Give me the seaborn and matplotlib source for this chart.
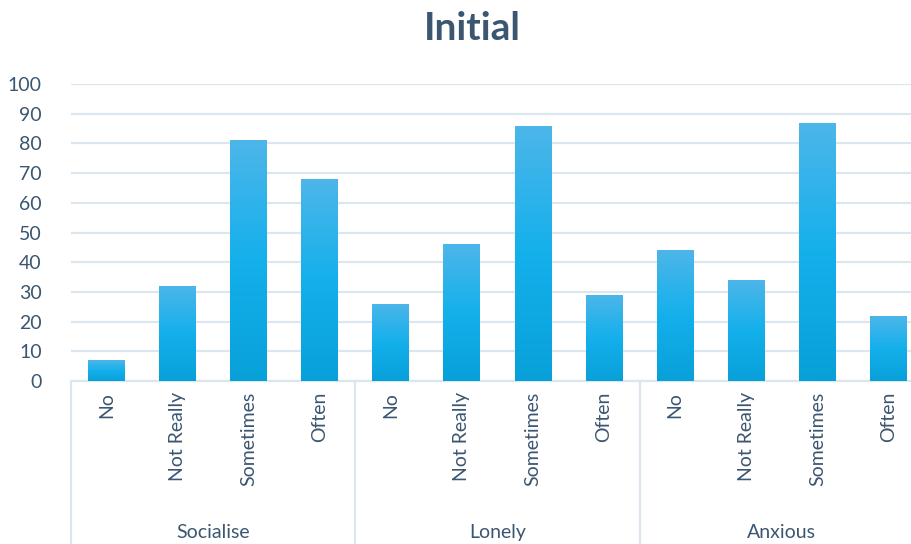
import numpy as np
import pandas as pd
import matplotlib
matplotlib.use("Agg")
import matplotlib.pyplot as plt
import seaborn as sns
from matplotlib.colors import LinearSegmentedColormap

groups = ["Socialise", "Lonely", "Anxious"]
responses = ["No", "Not Really", "Sometimes", "Often"]
socialise = [7, 32, 81, 68]
lonely = [26, 46, 86, 29]
anxious = [44, 34, 87, 22]
yticks = list(range(0, 101, 10))

rows = []
for g, vals in zip(groups, [socialise, lonely, anxious]):
    for r, v in zip(responses, vals):
        rows.append({"key": f"{g}|{r}", "group": g, "response": r, "value": v})
df = pd.DataFrame(rows)

sns.set_theme(style="white")
plt.rcParams['font.family'] = ['Lato', 'DejaVu Sans']

text_col = "#3B5670"
grid_col = "#DCE6EF"

fig = plt.figure(figsize=(9.11, 5.44), dpi=100)
ax = fig.add_axes([71/911, 1-381/544, 853/911, (381-84)/544])

sns.barplot(data=df, x="key", y="value", color="#14B0EC", width=0.52, ax=ax,
            saturation=1, zorder=3)

cmap = LinearSegmentedColormap.from_list("g", ["#08A0D9", "#14B0EC", "#4DB6E9"])
grad = np.linspace(0, 1, 256).reshape(-1, 1)
for p in ax.patches:
    x0, y0 = p.get_x(), p.get_y()
    w, h = p.get_width(), p.get_height()
    im = ax.imshow(grad, cmap=cmap, origin="lower", aspect="auto",
                   extent=[x0, x0 + w, y0, y0 + h], zorder=4)
    im.set_clip_path(p)
    p.set_facecolor("none")
    p.set_edgecolor("none")

ax.set_xlim(-0.5, len(df) - 0.5)
ax.set_ylim(0, 100)
ax.set_yticks(yticks)
ax.set_yticklabels([str(t) for t in yticks], fontsize=14, color=text_col)
ax.tick_params(axis="y", length=0, pad=21)
ax.yaxis.grid(True, color=grid_col, linewidth=1.6, zorder=0)
ax.set_axisbelow(True)
for s in ["top", "right", "left"]:
    ax.spines[s].set_visible(False)
ax.spines["bottom"].set_color(grid_col)
ax.spines["bottom"].set_linewidth(1.6)
ax.set_xlabel("")
ax.set_ylabel("")

ax.set_xticks(range(len(df)))
ax.set_xticklabels(df["response"].tolist(), rotation=90, fontsize=14,
                   color=text_col, va="top", ha="center")
ax.tick_params(axis="x", length=0, pad=8)

# group separators and labels
trans = ax.get_xaxis_transform()
n = len(responses)
for i in range(len(groups) + 1):
    xb = i * n - 0.5
    ax.plot([xb, xb], [0, -0.56], transform=trans, color=grid_col,
            linewidth=1.6, clip_on=False)
for i, g in enumerate(groups):
    xc = i * n + (n - 1) / 2
    ax.text(xc, -0.51, g, transform=trans, ha="center", va="center",
            fontsize=14, color=text_col)

fig.text(472/911, 1-28/544, "Initial", ha="center", va="center",
         fontsize=28, fontweight="bold", color="#3B5670")

fig.savefig("out.png", dpi=100)
